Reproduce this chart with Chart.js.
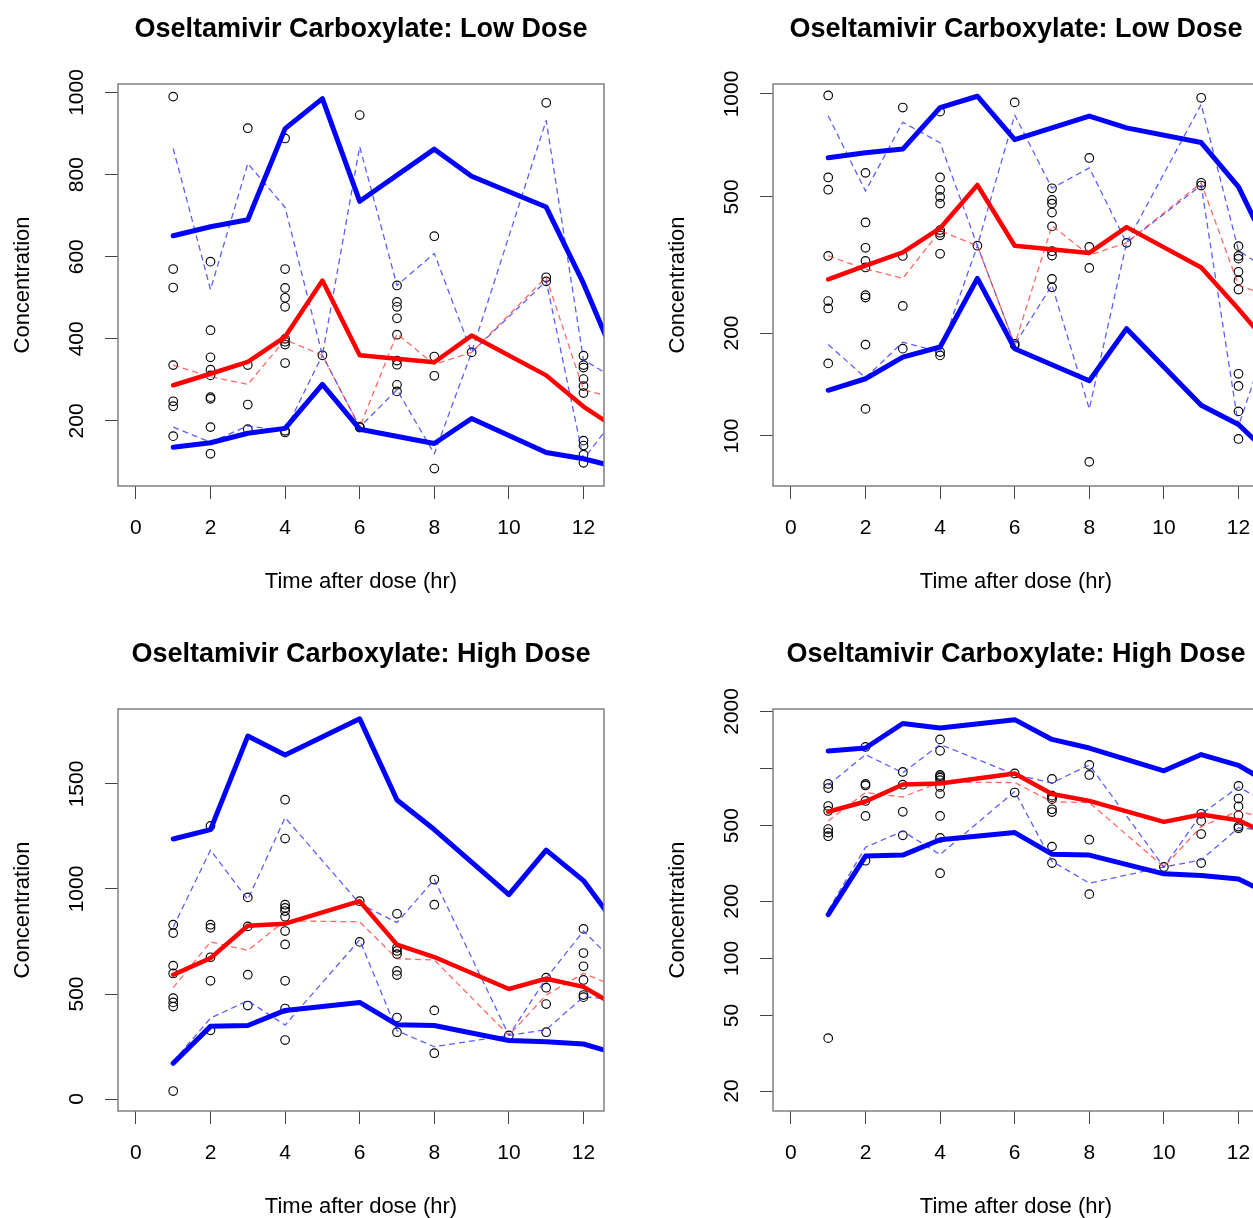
<!DOCTYPE html>
<html>
<head>
<meta charset="utf-8">
<title>Oseltamivir Carboxylate VPC</title>
<script src="https://cdn.jsdelivr.net/npm/chart.js@4.4.0/dist/chart.umd.min.js"></script>
<style>
  html, body { margin: 0; padding: 0; background: #fff; overflow: hidden; }
  #grid { position: relative; width: 1310px; height: 1250px; }
  #grid canvas { position: absolute; }
</style>
</head>
<body>
<div id="grid">
  <canvas id="lowLin"  width="655" height="625" style="left:0;top:0"></canvas>
  <canvas id="lowLog"  width="655" height="625" style="left:655px;top:0"></canvas>
  <canvas id="highLin" width="655" height="625" style="left:0;top:625px"></canvas>
  <canvas id="highLog" width="655" height="625" style="left:655px;top:625px"></canvas>
</div>
<script>
// ---------- Low dose: observed concentrations per sampling time ----------
const lowObsTimes = [1, 2, 3, 4, 5, 6, 7, 8, 9, 11, 12];
const lowObs = [
  [990, 570, 525, 336, 248, 236, 163],
  [588, 421, 355, 325, 311, 258, 254, 185, 120],
  [913, 336, 240, 180],
  [888, 570, 524, 500, 478, 400, 393, 386, 341, 176, 172],
  [360],
  [945, 186, 184],
  [530, 490, 478, 450, 410, 347, 337, 288, 272],
  [650, 357, 310, 84],
  [367],
  [975, 550, 540],
  [359, 336, 330, 302, 285, 268, 152, 140, 118, 98]
];
// Low dose: simulated 95th / median / 5th percentiles
const lowPredTimes = [1, 2, 3, 4, 5, 6, 8, 9, 11, 12, 13];
const lowPredHi  = [651, 673, 690, 912, 985, 735, 862, 796, 721, 535, 320];
const lowPredMed = [287, 315, 344, 405, 542, 360, 343, 408, 311, 235, 175];
const lowPredLo  = [136, 147, 170, 182, 289, 180, 145, 206, 123, 108, 85];
// Low dose: observed 95th / median / 5th percentiles
const lowPctTimes = [1, 2, 3, 4, 5, 6, 7, 8, 9, 11, 12, 13];
const lowPctHi  = [864, 520, 827, 720, 360, 868, 530, 608, 367, 932, 349, 295];
const lowPctMed = [336, 308, 289, 398, 360, 185, 412, 338, 367, 550, 276, 252];
const lowPctLo  = [185, 148, 188, 176, 360, 185, 276, 120, 367, 541, 107, 225];

// ---------- High dose: observed concentrations per sampling time ----------
const highObsTimes = [1, 2, 3, 4, 6, 7, 8, 10, 11, 12];
const highObs = [
  [830, 790, 635, 598, 480, 460, 440, 38],
  [1300, 830, 815, 675, 563, 327],
  [960, 822, 592, 445],
  [1425, 1240, 925, 910, 895, 868, 800, 736, 563, 431, 281],
  [942, 748],
  [882, 720, 705, 690, 610, 590, 388, 318],
  [1045, 925, 422, 218],
  [303],
  [578, 530, 452, 318],
  [810, 695, 632, 567, 495, 485]
];
// High dose: simulated 95th / median / 5th percentiles
const highPredTimes = [1, 2, 3, 4, 6, 7, 8, 10, 11, 12, 13];
const highPredHi  = [1238, 1283, 1728, 1638, 1810, 1424, 1283, 973, 1185, 1040, 800];
const highPredMed = [592, 671, 825, 835, 942, 735, 676, 524, 573, 534, 430];
const highPredLo  = [170, 346, 350, 422, 460, 354, 350, 279, 273, 262, 210];
// High dose: observed 95th / median / 5th percentiles
const highPctTimes = [1, 2, 3, 4, 6, 7, 8, 10, 11, 12, 13];
const highPctHi  = [818, 1185, 950, 1340, 930, 840, 1045, 303, 575, 800, 622];
const highPctMed = [530, 748, 708, 848, 844, 668, 662, 303, 495, 598, 527];
const highPctLo  = [179, 385, 468, 352, 758, 325, 249, 303, 330, 487, 470];

// ---------- Axis ticks ----------
const xTicks = [0, 2, 4, 6, 8, 10, 12];
const lowLinTicks  = [200, 400, 600, 800, 1000];
const lowLogTicks  = [100, 200, 500, 1000];
const highLinTicks = [0, 500, 1000, 1500];
const highLogTicks = [20, 50, 100, 200, 500, 1000, 2000];
const highLogLabels = ['20', '50', '100', '200', '500', '', '2000'];

const TITLE_LOW = 'Oseltamivir Carboxylate: Low Dose';
const TITLE_HIGH = 'Oseltamivir Carboxylate: High Dose';
const X_LABEL = 'Time after dose (hr)';
const Y_LABEL = 'Concentration';

Chart.defaults.font.family = '"Liberation Sans", Arial, Helvetica, sans-serif';
Chart.defaults.color = '#000';

// grey box around each plotting region
const frame = {
  id: 'frame',
  afterDatasetsDraw(chart) {
    const { ctx, chartArea: a } = chart;
    ctx.save();
    ctx.strokeStyle = '#808080';
    ctx.lineWidth = 1.5;
    ctx.strokeRect(a.left, a.top, a.right - a.left, a.bottom - a.top);
    ctx.restore();
  }
};

function toXY(times, values) {
  return times.map((t, i) => ({ x: t, y: values[i] }));
}

function line(times, values, color, width, dash) {
  return {
    data: toXY(times, values),
    showLine: true,
    borderColor: color,
    borderWidth: width,
    borderDash: dash || [],
    borderCapStyle: dash ? 'butt' : 'round',
    borderJoinStyle: 'round',
    tension: 0,
    fill: false,
    pointRadius: 0,
    pointHoverRadius: 0,
    clip: 0
  };
}

function points(times, groups) {
  const data = [];
  times.forEach((t, i) => groups[i].forEach(v => data.push({ x: t, y: v })));
  return {
    data,
    showLine: false,
    pointStyle: 'circle',
    pointRadius: 4.3,
    pointBorderWidth: 1.15,
    pointBorderColor: '#000',
    pointBackgroundColor: 'rgba(0,0,0,0)'
  };
}

function panel(id, title, yType, yMin, yMax, yTicks, yLabels, obsT, obs, predT, pHi, pMed, pLo, pctT, oHi, oMed, oLo) {
  const BLUE = '#0000ff', RED = '#ff0000';
  const DBLUE = 'rgba(40,40,255,0.75)', DRED = 'rgba(255,40,40,0.7)';
  const datasets = [
    line(predT, pMed, RED, 4.5),
    line(predT, pHi, BLUE, 5),
    line(predT, pLo, BLUE, 5),
    line(pctT, oMed, DRED, 1.3, [6, 4]),
    line(pctT, oHi, DBLUE, 1.3, [6, 4]),
    line(pctT, oLo, DBLUE, 1.3, [6, 4]),
    points(obsT, obs)
  ];
  return new Chart(document.getElementById(id), {
    type: 'scatter',
    data: { datasets },
    plugins: [frame],
    options: {
      responsive: false,
      animation: false,
      events: [],
      layout: { padding: { left: 0, right: 51, top: 0, bottom: 0 } },
      plugins: {
        legend: { display: false },
        tooltip: { enabled: false },
        title: {
          display: true, text: title, fullSize: false, color: '#000',
          font: { size: 27, weight: 'bold' },
          padding: { top: 13, bottom: 38.6 }
        }
      },
      scales: {
        x: {
          type: 'linear', min: -0.48, max: 12.55,
          afterBuildTicks: s => { s.ticks = xTicks.map(v => ({ value: v })); },
          afterFit: s => { s.height = 139; },
          ticks: { callback: v => String(v), font: { size: 21 }, color: '#000', padding: 17, maxRotation: 0, autoSkip: false },
          grid: { drawOnChartArea: false, drawTicks: true, tickLength: 13, tickColor: '#444', tickWidth: 1 },
          border: { display: false },
          title: { display: true, text: X_LABEL, font: { size: 22 }, color: '#000', padding: { top: 0, bottom: 30 } }
        },
        y: {
          type: yType, min: yMin, max: yMax,
          afterBuildTicks: s => { s.ticks = yTicks.map(v => ({ value: v })); },
          afterFit: s => { s.width = 118; },
          ticks: {
            callback: (v) => { const i = yTicks.indexOf(v); return i >= 0 ? yLabels[i] : ''; },
            font: { size: 21 }, color: '#000', padding: 4,
            minRotation: 90, maxRotation: 90, crossAlign: 'center', autoSkip: false
          },
          grid: { drawOnChartArea: false, drawTicks: true, tickLength: 13, tickColor: '#444', tickWidth: 1 },
          border: { display: false },
          title: { display: true, text: Y_LABEL, font: { size: 22 }, color: '#000', padding: { top: 10, bottom: 0 } }
        }
      }
    }
  });
}

panel('lowLin', TITLE_LOW, 'linear', 41.6, 1020.7, lowLinTicks, lowLinTicks.map(String),
      lowObsTimes, lowObs, lowPredTimes, lowPredHi, lowPredMed, lowPredLo,
      lowPctTimes, lowPctHi, lowPctMed, lowPctLo);
panel('lowLog', TITLE_LOW, 'logarithmic', 71.4, 1069.6, lowLogTicks, lowLogTicks.map(String),
      lowObsTimes, lowObs, lowPredTimes, lowPredHi, lowPredMed, lowPredLo,
      lowPctTimes, lowPctHi, lowPctMed, lowPctLo);
panel('highLin', TITLE_HIGH, 'linear', -57, 1857, highLinTicks, highLinTicks.map(String),
      highObsTimes, highObs, highPredTimes, highPredHi, highPredMed, highPredLo,
      highPctTimes, highPctHi, highPctMed, highPctLo);
panel('highLog', TITLE_HIGH, 'logarithmic', 15.7, 2060, highLogTicks, highLogLabels,
      highObsTimes, highObs, highPredTimes, highPredHi, highPredMed, highPredLo,
      highPctTimes, highPctHi, highPctMed, highPctLo);
</script>
</body>
</html>
